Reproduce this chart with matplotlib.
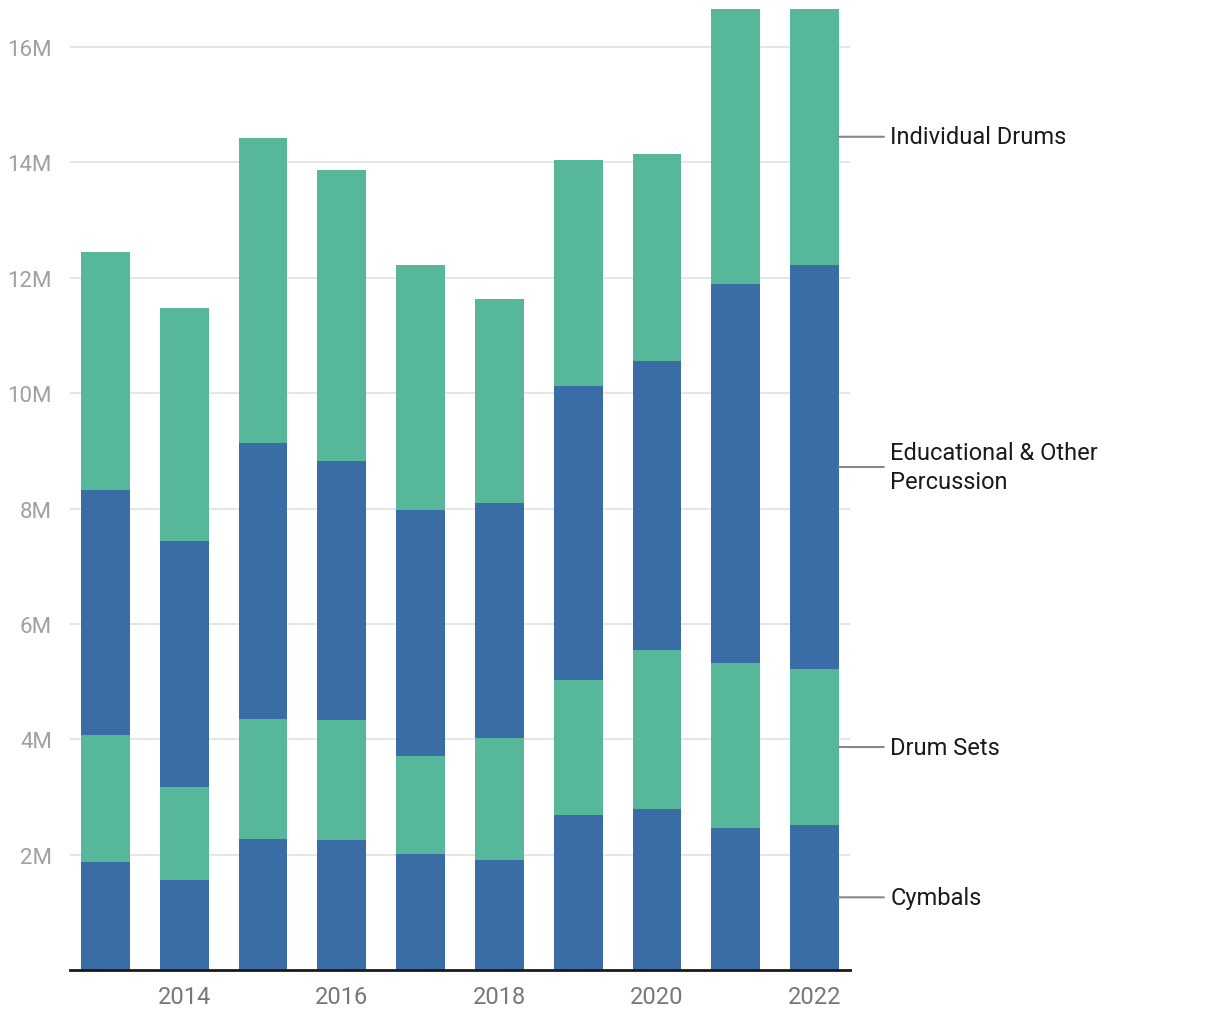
import matplotlib

matplotlib.use("Agg")
import matplotlib.pyplot as plt
import numpy as np
from matplotlib.ticker import FuncFormatter

plt.rcParams["font.family"] = ["Roboto", "DejaVu Sans"]

BLUE = "#3A6CA6"
GREEN = "#57B79B"

years = [2013, 2014, 2015, 2016, 2017, 2018, 2019, 2020, 2021, 2022]
series_names = ["Cymbals", "Drum Sets", "Educational & Other\nPercussion", "Individual Drums"]
# values in millions (tops of 2021/2022 are clipped)
cymbals = [1.87, 1.56, 2.27, 2.26, 2.01, 1.91, 2.69, 2.79, 2.46, 2.52]
drum_sets = [2.21, 1.62, 2.09, 2.08, 1.70, 2.12, 2.34, 2.76, 2.87, 2.69]
educational = [4.25, 4.26, 4.77, 4.48, 4.27, 4.07, 5.09, 5.00, 6.56, 7.02]
individual = [4.11, 4.03, 5.29, 5.05, 4.25, 3.53, 3.92, 3.59, 5.40, 5.30]
colors = [BLUE, GREEN, BLUE, GREEN]

y_top = 16.66

fig = plt.figure(figsize=(12.2, 10.2), dpi=100)
ax = fig.add_axes([70 / 1220, 49 / 1020, 780 / 1220, 961 / 1020])

bottom = np.zeros(len(years))
label_pos = []
for vals, col in zip([cymbals, drum_sets, educational, individual], colors):
    vals = np.array(vals)
    ax.bar(years, vals, bottom=bottom, width=0.62, color=col, zorder=2)
    lo = bottom[-1]
    hi = min(bottom[-1] + vals[-1], y_top)
    label_pos.append((lo + hi) / 2)
    bottom = bottom + vals

ax.set_xlim(2012.55, 2022.45)
ax.set_ylim(0, y_top)
ax.set_yticks([2, 4, 6, 8, 10, 12, 14, 16])
ax.yaxis.set_major_formatter(FuncFormatter(lambda v, p: f"{v:.0f}M"))
ax.set_xticks([2014, 2016, 2018, 2020, 2022])
ax.tick_params(axis="y", length=0, pad=13, labelsize=16, labelcolor="#A0A0A0")
ax.tick_params(axis="x", length=0, pad=11, labelsize=17, labelcolor="#777777")
ax.grid(axis="y", color="#E3E3E3", linewidth=1.3, zorder=0)
for s in ["top", "right", "left"]:
    ax.spines[s].set_visible(False)
ax.spines["bottom"].set_color("#1A1A1A")
ax.spines["bottom"].set_linewidth(2)
ax.spines["bottom"].set_zorder(3)

# direct labels next to last bar
x_end = 2022 + 0.31
for name, yv in zip(series_names, label_pos):
    ax.annotate("", xy=(x_end, yv), xytext=(x_end + 0.57, yv),
                arrowprops=dict(arrowstyle="-", color="#888888", lw=1.5,
                                shrinkA=0, shrinkB=0), annotation_clip=False)
    ax.text(x_end + 0.65, yv, name, ha="left", va="center", fontsize=17,
            color="#1A1A1A", linespacing=1.3, clip_on=False)

fig.savefig("out.png", dpi=100, facecolor="white")
